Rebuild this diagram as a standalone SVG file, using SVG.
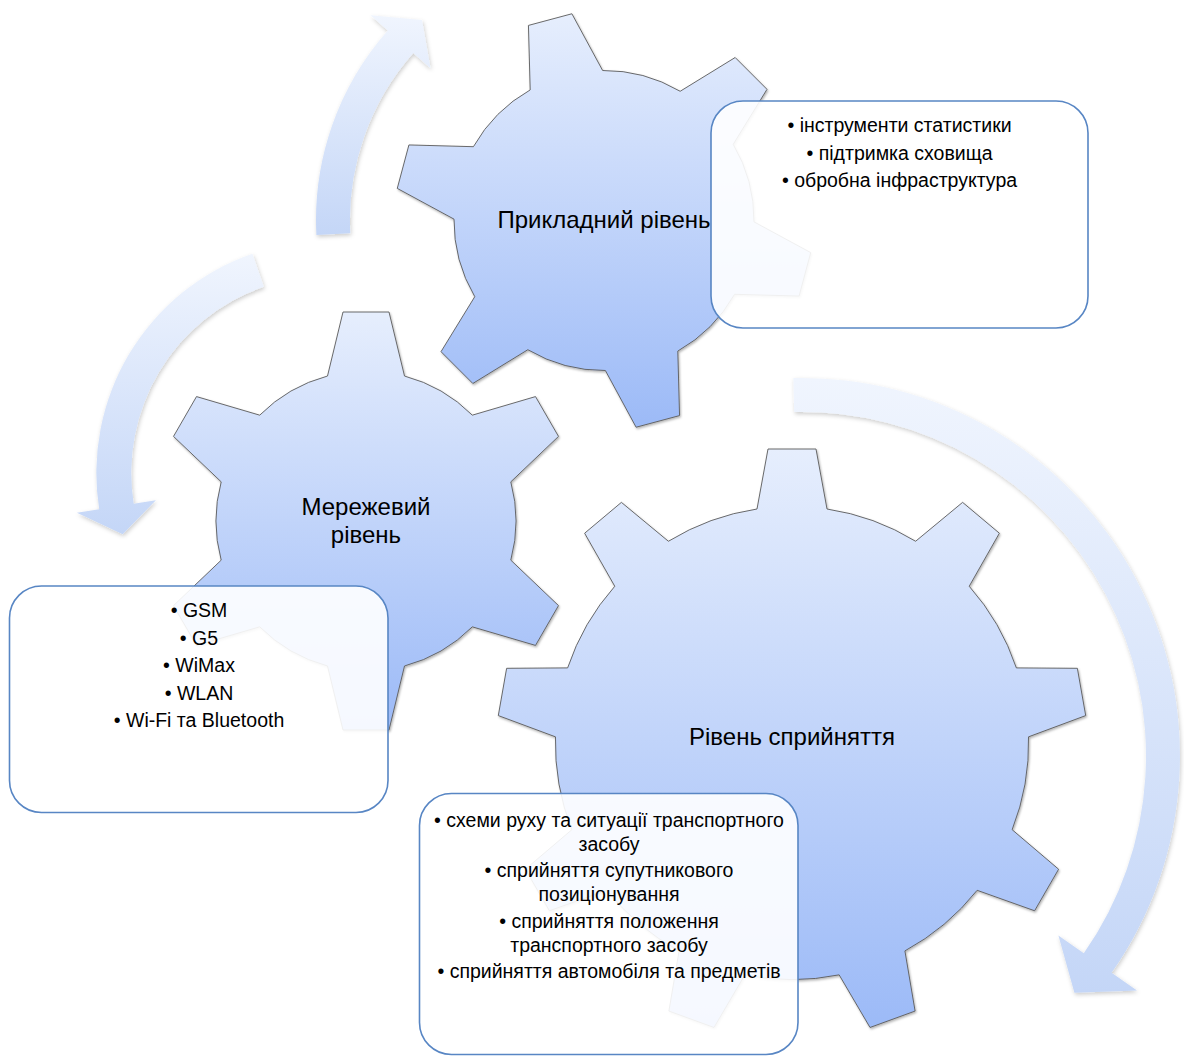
<svg xmlns="http://www.w3.org/2000/svg" width="1184" height="1057" viewBox="0 0 1184 1057">
<defs>
  <linearGradient id="gearFill" x1="0" y1="0" x2="0" y2="1">
    <stop offset="0" stop-color="#e6eefd"/>
    <stop offset="1" stop-color="#9cbaf7"/>
  </linearGradient>
  <linearGradient id="arrowFill" x1="0" y1="0" x2="0" y2="1">
    <stop offset="0" stop-color="#f0f5fe"/>
    <stop offset="1" stop-color="#c4d6f7"/>
  </linearGradient>
  <filter id="shadow" x="-10%" y="-10%" width="120%" height="120%">
    <feDropShadow dx="1" dy="1.5" stdDeviation="1.2" flood-color="#000" flood-opacity="0.3"/>
  </filter>
  <filter id="softShadow" x="-10%" y="-10%" width="120%" height="120%">
    <feDropShadow dx="1" dy="2" stdDeviation="2" flood-color="#000" flood-opacity="0.2"/>
  </filter>
</defs>
<style>
  .gear{fill:url(#gearFill);stroke:#5a5a5a;stroke-width:0.9;filter:url(#shadow)}
  .arrow{fill:url(#arrowFill);filter:url(#softShadow)}
  .box{fill:#ffffff;fill-opacity:0.9;stroke:#5886c4;stroke-width:1.6}
  .label{font-family:"Liberation Sans",Arial,sans-serif;font-size:24px;fill:#000;text-anchor:middle}
  .item{font-family:"Liberation Sans",Arial,sans-serif;font-size:19.5px;fill:#000;text-anchor:middle}
</style>
<rect x="0" y="0" width="1184" height="1057" fill="#ffffff"/>

<g id="connectors">
  <path id="arrow-applied" class="arrow" d="M316.4,235 A286,286 0 0 1 387.8,30.5 L370.6,15.25 L422,20.1 L430.5,68.3 L413.3,53 A252,252 0 0 0 350.3,233.2 Z"/>
  <path id="arrow-network" class="arrow" d="M252.4,253.7 A232,232 0 0 0 99.2,509.2 L76.9,512.7 L122.7,534.2 L155.9,500.2 L133.7,503.7 A197,197 0 0 1 263.8,286.75 Z"/>
  <path id="arrow-perception" class="arrow" d="M793.4,378.1 A378,378 0 0 1 1111.6,972.8 L1137,990.6 L1074.4,992.8 L1058.4,935.5 L1083.8,953.3 A344,344 0 0 0 794.2,412.1 Z"/>
</g>

<g id="gear-applied">
  <path class="gear" d="M530.19,89.92 L528.44,25.41 L571.9,13.77 L602.63,70.5 A150,150 0 0 1 680.18,91.28 L735.17,57.51 L766.99,89.33 L733.22,144.32 A150,150 0 0 1 754,221.87 L810.73,252.6 L799.09,296.06 L734.58,294.31 A150,150 0 0 1 677.81,351.08 L679.56,415.59 L636.1,427.23 L605.37,370.5 A150,150 0 0 1 527.82,349.72 L472.83,383.49 L441.01,351.67 L474.78,296.68 A150,150 0 0 1 454,219.13 L397.27,188.4 L408.91,144.94 L473.42,146.69 A150,150 0 0 1 530.19,89.92 Z"/>
  <text class="label" x="604" y="227.5">Прикладний рівень</text>
</g>

<g id="gear-network">
  <path class="gear" d="M327.5,376.03 L343,312 L389,312 L404.5,376.03 A150,150 0 0 1 472.3,415.17 L535.5,396.58 L558.5,436.42 L510.8,481.85 A150,150 0 0 1 510.8,560.15 L558.5,605.58 L535.5,645.42 L472.3,626.83 A150,150 0 0 1 404.5,665.97 L389,730 L343,730 L327.5,665.97 A150,150 0 0 1 259.7,626.83 L196.5,645.42 L173.5,605.58 L221.2,560.15 A150,150 0 0 1 221.2,481.85 L173.5,436.42 L196.5,396.58 L259.7,415.17 A150,150 0 0 1 327.5,376.03 Z"/>
  <text class="label" x="366" y="515">Мережевий</text>
  <text class="label" x="366" y="543">рівень</text>
</g>

<g id="gear-perception">
  <path class="gear" d="M757,509 L768,449 L816,449 L827,509 A236.6,236.6 0 0 1 915.61,541.25 L962.6,502.36 L999.36,533.22 L969.23,586.25 A236.6,236.6 0 0 1 1016.36,667.9 L1077.36,668.31 L1085.7,715.59 L1028.52,736.84 A236.6,236.6 0 0 1 1012.15,829.69 L1058.61,869.22 L1034.61,910.78 L977.15,890.31 A236.6,236.6 0 0 1 904.92,950.92 L915.1,1011.06 L870,1027.48 L839.14,974.86 A236.6,236.6 0 0 1 744.86,974.86 L714,1027.48 L668.9,1011.06 L679.08,950.92 A236.6,236.6 0 0 1 606.85,890.31 L549.39,910.78 L525.39,869.22 L571.85,829.69 A236.6,236.6 0 0 1 555.48,736.84 L498.3,715.59 L506.64,668.31 L567.64,667.9 A236.6,236.6 0 0 1 614.77,586.25 L584.64,533.22 L621.4,502.36 L668.39,541.25 A236.6,236.6 0 0 1 757,509 Z"/>
  <text class="label" x="792" y="745">Рівень сприйняття</text>
</g>

<g id="box-applied">
  <rect class="box" x="711" y="101" width="377" height="227" rx="32" ry="32"/>
  <text class="item" x="899.5" y="132">• інструменти статистики</text>
  <text class="item" x="899.5" y="159.5">• підтримка сховища</text>
  <text class="item" x="899.5" y="187">• обробна інфраструктура</text>
</g>

<g id="box-network">
  <rect class="box" x="9.5" y="586" width="378.5" height="226.5" rx="32" ry="32"/>
  <text class="item" x="199" y="617">• GSM</text>
  <text class="item" x="199" y="644.5">• G5</text>
  <text class="item" x="199" y="672">• WiMax</text>
  <text class="item" x="199" y="699.5">• WLAN</text>
  <text class="item" x="199" y="727">• Wi-Fi та Bluetooth</text>
</g>

<g id="box-perception">
  <rect class="box" x="419.5" y="793.5" width="378.5" height="261" rx="32" ry="32"/>
  <text class="item" x="609" y="826.5">• схеми руху та ситуації транспортного</text>
  <text class="item" x="609" y="850.5">засобу</text>
  <text class="item" x="609" y="877">• сприйняття супутникового</text>
  <text class="item" x="609" y="900.5">позиціонування</text>
  <text class="item" x="609" y="928">• сприйняття положення</text>
  <text class="item" x="609" y="951.5">транспортного засобу</text>
  <text class="item" x="609" y="978">• сприйняття автомобіля та предметів</text>
</g>
</svg>
